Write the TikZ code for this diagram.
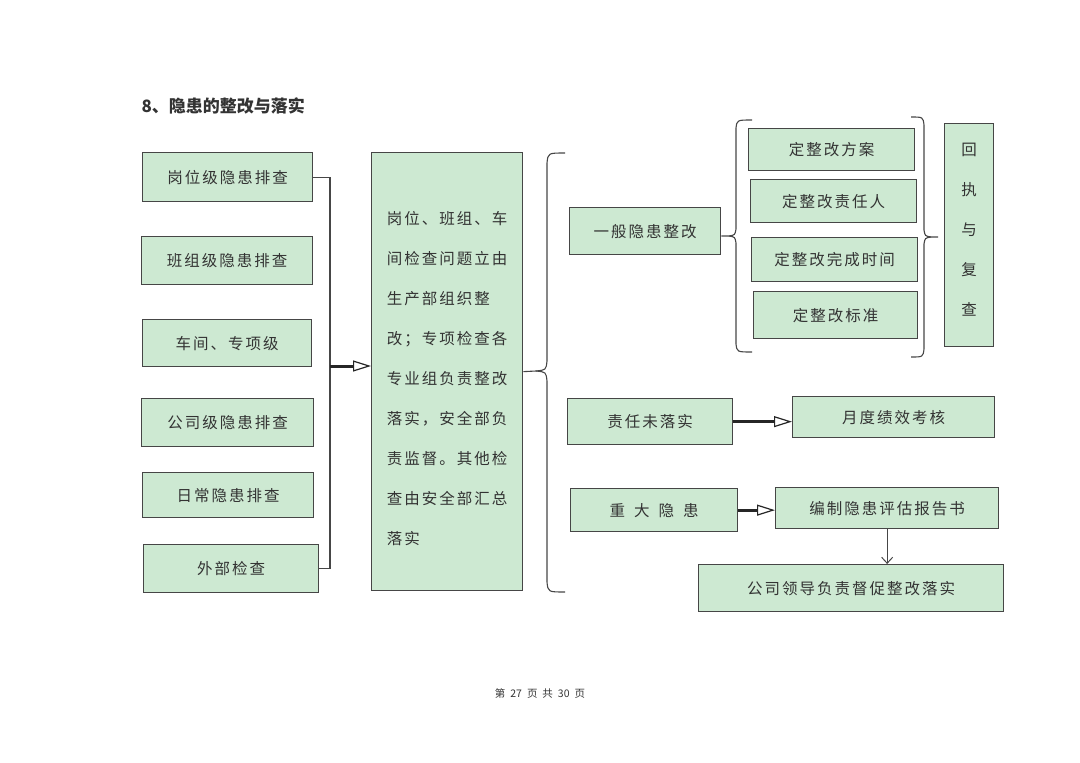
\documentclass[tikz,border=0pt]{standalone}
\usepackage{fontspec}
\newfontfamily\cn[LetterSpace=13]{Noto Sans CJK SC}
\newfontfamily\cnplain{Noto Sans CJK SC}
\usetikzlibrary{arrows.meta}
\definecolor{Edge}{HTML}{464646}
\definecolor{Fill}{HTML}{CDE9D2}
\definecolor{Ink}{HTML}{333333}
\tikzset{
    greenbox/.style={rectangle, draw=Edge, line width=1.3pt, fill=Fill, text=Ink, align=center, inner sep=0pt, anchor=north west, font=\cn\fontsize{15.5}{19}\selectfont},
    link/.style={draw=Edge, line width=1.1pt},
    fatarrow/.style={draw=black!85, line width=3pt, -{Triangle[open, length=18pt, width=11pt, line width=1.2pt]}},
    thinarrow/.style={draw=Edge, line width=1pt, -{Straight Barb[length=6pt, width=11pt]}},
}

\begin{document}
\begin{tikzpicture}[x=1pt, y=-1pt]
    \useasboundingbox (0,0) rectangle (1080,763);

    % Titolo
    \node[anchor=west, text=Ink, font=\cnplain\bfseries\fontsize{17}{20}\selectfont] (title) at (138,106) {8、隐患的整改与落实};

    % Colonna sinistra: livelli di controllo
    \node[greenbox, minimum width=170, minimum height=49] (l1) at (142,152) {岗位级隐患排查};
    \node[greenbox, minimum width=171, minimum height=48] (l2) at (141,236) {班组级隐患排查};
    \node[greenbox, minimum width=169, minimum height=47] (l3) at (142,319) {车间、专项级};
    \node[greenbox, minimum width=172, minimum height=48] (l4) at (141,398) {公司级隐患排查};
    \node[greenbox, minimum width=171, minimum height=45] (l5) at (142,472) {日常隐患排查};
    \node[greenbox, minimum width=175, minimum height=48] (l6) at (143,544) {外部检查};

    % Blocco centrale
    \node[greenbox, minimum width=151, minimum height=438, align=left, font=\cn\fontsize{15.5}{40}\selectfont] (mid) at (371,152)
        {\rule{0pt}{26pt}岗位、班组、车\\间检查问题立由\\生产部组织整\\改；专项检查各\\专业组负责整改\\落实，安全部负\\责监督。其他检\\查由安全部汇总\\落实};

    \coordinate (jmid) at (330,366);
    \draw[link] (l1.east) -- (l1.east -| jmid) -- (l6.east -| jmid) -- (l6.east);
    \draw[fatarrow] (jmid) -- (jmid -| mid.west);

    % Parentesi grande
    \draw[link] (565,153) .. controls (548,153) .. (547,163) -- (547,361) .. controls (546,370) .. (536,371) -- (mid.east);
    \draw[link] (536,371) .. controls (546,372) .. (547,381) -- (547,582) .. controls (548,592) .. (565,592);

    % Ramo: pericolo generale
    \node[greenbox, minimum width=151, minimum height=47] (g) at (569,207) {一般隐患整改};
    \node[greenbox, minimum width=166, minimum height=42] (s1) at (748,128) {定整改方案};
    \node[greenbox, minimum width=166, minimum height=43] (s2) at (750,179) {定整改责任人};
    \node[greenbox, minimum width=166, minimum height=44] (s3) at (751,237) {定整改完成时间};
    \node[greenbox, minimum width=164, minimum height=47] (s4) at (753,291) {定整改标准};
    \node[greenbox, minimum width=49, minimum height=223, font=\cn\fontsize{15.5}{40}\selectfont] (r) at (944,123) {回\\执\\与\\复\\查\rule[-12pt]{0pt}{0pt}};

    \draw[link] (752,120) .. controls (737,120) .. (736,128) -- (736,229) .. controls (735,235) .. (729,236) -- (g.east |- 0,236);
    \draw[link] (729,236) .. controls (735,237) .. (736,243) -- (736,344) .. controls (737,352) .. (752,352);

    \coordinate (rtip) at (938,237);
    \draw[link] (911,117) .. controls (923,117) .. (924,125) -- (924,230) .. controls (925,236) .. (931,237) -- (rtip);
    \draw[link] (931,237) .. controls (925,238) .. (924,244) -- (924,349) .. controls (923,357) .. (911,357);

    % Ramo: responsabilita e pericoli gravi
    \node[greenbox, minimum width=165, minimum height=46] (u) at (567,398) {责任未落实};
    \node[greenbox, minimum width=202, minimum height=41] (m) at (792,396) {月度绩效考核};
    \node[greenbox, minimum width=167, minimum height=43] (z) at (570,488) {重\hspace{9pt}大\hspace{9pt}隐\hspace{9pt}患};
    \node[greenbox, minimum width=223, minimum height=41] (e) at (775,487) {编制隐患评估报告书};
    \node[greenbox, minimum width=305, minimum height=47] (c) at (698,564) {公司领导负责督促整改落实};

    \draw[fatarrow] (u.east) -- (u.east -| m.west);
    \draw[fatarrow] (z.east) -- (z.east -| e.west);
    \draw[thinarrow] (e.south) -- (e.south |- c.north);

    % Pie di pagina
    \node[text=Ink, font=\cnplain\fontsize{10.5}{12}\selectfont] (foot) at (540,693) {第\hspace{5pt}27\hspace{5pt}页\hspace{5pt}共\hspace{5pt}30\hspace{5pt}页};
\end{tikzpicture}
\end{document}
